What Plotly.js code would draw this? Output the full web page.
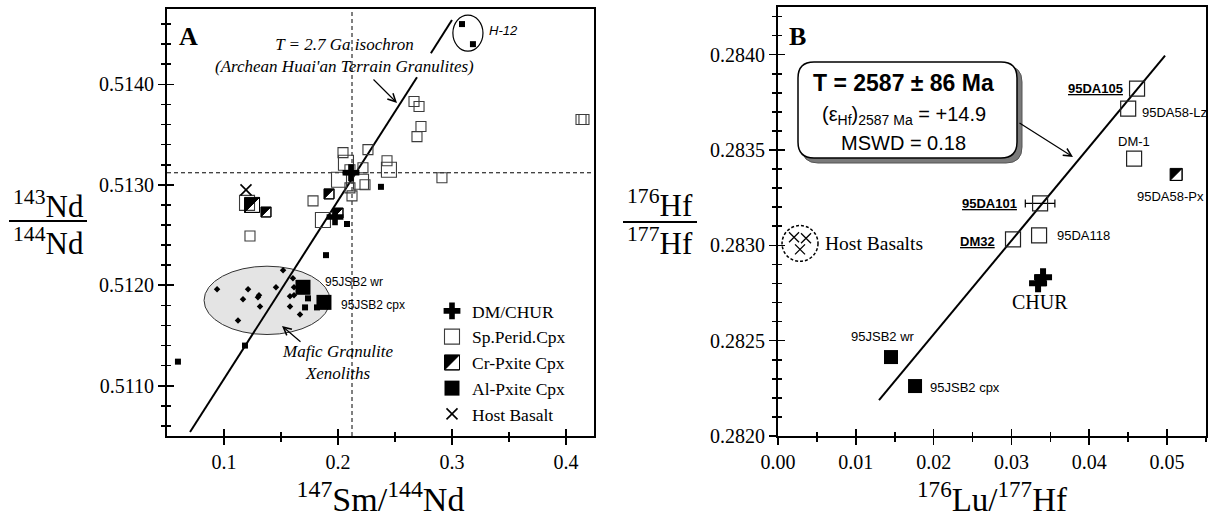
<!DOCTYPE html>
<html><head><meta charset="utf-8">
<script src="https://cdn.plot.ly/plotly-3.0.1.min.js"></script>
<style>html,body{margin:0;padding:0;background:#fff}#chart{width:1209px;height:518px}</style>
</head><body><div id="chart"></div>
<script>
// ================= DATA =================
// Panel A : 147Sm/144Nd (x) vs 143Nd/144Nd (y)
const spSmallSmNd = [0.2667,0.2711,0.2728,0.2693,0.2044,0.2263,0.2430,0.2219,0.2237,0.2105,0.2105,0.2123,0.1781,0.1228,0.2912,0.4132,0.4158];
const spSmallNd   = [0.51383,0.51378,0.51358,0.51348,0.51332,0.51335,0.51324,0.51317,0.51300,0.51315,0.51297,0.51289,0.51284,0.51249,0.51307,0.51365,0.51365];
const spLargeSmNd = [0.2070,0.2447,0.2009,0.2202,0.1868,0.1202];
const spLargeNd   = [0.51322,0.51315,0.51305,0.51303,0.51265,0.51282];
const crLargeSmNd = [0.1246];
const crLargeNd   = [0.51280];
const crSmallSmNd = [0.1368,0.1921,0.2000];
const crSmallNd   = [0.51273,0.51291,0.51272];
const alSmallSmNd = [0.2377,0.2079,0.1895,0.1737,0.1711,0.1816,0.1184,0.0596,0.3088,0.3184];
const alSmallNd   = [0.51298,0.51261,0.51230,0.51187,0.51178,0.51178,0.51140,0.51124,0.51460,0.51440];
const alLargeSmNd = [0.1693,0.1877];
const alLargeNd   = [0.51198,0.51183];
const mgSmNd = [0.0939,0.1123,0.1167,0.1211,0.1298,0.1307,0.1316,0.1456,0.1518,0.1579,0.1579,0.1605,0.1614,0.1614,0.1667];
const mgNd   = [0.51196,0.51165,0.51186,0.51196,0.51188,0.51190,0.51179,0.51198,0.51215,0.51189,0.51179,0.51207,0.51198,0.51190,0.51171];
const dmChurSmNd = [0.2114,0.1974];
const dmChurNd   = [0.51312,0.51268];
const hostSmNd = [0.1193];
const hostNd   = [0.51295];
const isoASmNd = [0.0702,0.2693,null,0.2815,0.3000];
const isoANd   = [0.51054,0.51407,null,0.51431,0.51464];
const refSmNd = 0.2123;
const refNd   = 0.51312;
const xTickValsA = [0.1,0.2,0.3,0.4];
const xTickTextA = ['0.1','0.2','0.3','0.4'];
const yTickValsA = [0.511,0.512,0.513,0.514];
const yTickTextA = ['0.5110','0.5120','0.5130','0.5140'];

// Panel B : 176Lu/177Hf (x) vs 176Hf/177Hf (y)
const bOpenLuHf = [0.04614,0.04500,0.04576,0.03355,0.03020];
const bOpenHf   = [0.283822,0.283717,0.283455,0.283052,0.283031];
const b101LuHf = [0.03368];
const b101Hf   = [0.283220];
const b101Err  = [0.0019];
const bCrLuHf = [0.05116];
const bCrHf   = [0.283372];
const bAlLuHf = [0.01452,0.01761];
const bAlHf   = [0.282414,0.282262];
const bChurLuHf = [0.03406,0.03342];
const bChurHf   = [0.282832,0.282801];
const bHostLuHf = [0.00206,0.00360,0.00283];
const bHostHf   = [0.283042,0.283037,0.282979];
const isoBLuHf = [0.01298,0.04974];
const isoBHf   = [0.282188,0.283995];
const xTickValsB = [0,0.01,0.02,0.03,0.04,0.05];
const xTickTextB = ['0.00','0.01','0.02','0.03','0.04','0.05'];
const yTickValsB = [0.282,0.2825,0.283,0.2835,0.284];
const yTickTextB = ['0.2820','0.2825','0.2830','0.2835','0.2840'];

// ================= HELPERS =================
const W = 1209, H = 518;
const px = v => v / W;
const py = v => 1 - v / H;
const SERIF = 'Liberation Serif, Times New Roman, serif';
const SANS = 'Liberation Sans, Arial, sans-serif';

const domXA = [px(167), px(594)], domYA = [py(436), py(9)];
const domXB = [px(778), px(1206)], domYB = [py(436), py(7)];
const rXA = [0.05, 0.4246], rYA = [0.5105, 0.51475];
const rXB = [0, 0.0550], rYB = [0.2820, 0.28425];

function mainAxis(extra) {
  return Object.assign({
    showline: true, linecolor: 'black', linewidth: 2, mirror: true,
    ticks: 'outside', ticklen: 7, tickwidth: 1.6, tickcolor: 'black',
    showgrid: false, zeroline: false,
    tickfont: {family: SERIF, size: 20, color: 'black'},
    tickmode: 'array'
  }, extra);
}
function overlayAxis(extra) {
  return Object.assign({
    showline: false, ticks: 'inside', ticklen: 7, tickwidth: 1.6, tickcolor: 'black',
    showgrid: false, zeroline: false, showticklabels: false, tickmode: 'array'
  }, extra);
}

// ================= TRACES =================
const A = {xaxis: 'x', yaxis: 'y'};
const B = {xaxis: 'x2', yaxis: 'y2'};
const traces = [
  Object.assign({x: mgSmNd, y: mgNd, mode: 'markers', showlegend: false,
    marker: {symbol: 'diamond', size: 5, color: 'black'}}, A),
  Object.assign({x: isoASmNd, y: isoANd, mode: 'lines', showlegend: false,
    line: {color: 'black', width: 2}}, A),
  Object.assign({x: spSmallSmNd, y: spSmallNd, mode: 'markers', showlegend: false, legendgroup: 'sp',
    marker: {symbol: 'square-open', size: 10, color: '#3c3c3c', line: {width: 1.1}}}, A),
  Object.assign({x: spLargeSmNd, y: spLargeNd, mode: 'markers', name: 'Sp.Perid.Cpx', legendgroup: 'sp', legendrank: 2,
    marker: {symbol: 'square-open', size: 15, color: '#3c3c3c', line: {width: 1.1}}}, A),
  Object.assign({x: crSmallSmNd, y: crSmallNd, mode: 'markers', showlegend: false, meta: 'half', legendgroup: 'cr',
    marker: {symbol: 'square', size: 10, color: 'black', line: {color: 'black', width: 1}}}, A),
  Object.assign({x: crLargeSmNd, y: crLargeNd, mode: 'markers', name: 'Cr-Pxite Cpx', meta: 'half', legendgroup: 'cr', legendrank: 3,
    marker: {symbol: 'square', size: 15, color: 'black', line: {color: 'black', width: 1}}}, A),
  Object.assign({x: alSmallSmNd, y: alSmallNd, mode: 'markers', showlegend: false, legendgroup: 'al',
    marker: {symbol: 'square', size: 6, color: 'black'}}, A),
  Object.assign({x: alLargeSmNd, y: alLargeNd, mode: 'markers', name: 'Al-Pxite Cpx', legendgroup: 'al', legendrank: 4,
    marker: {symbol: 'square', size: 15, color: 'black'}}, A),
  Object.assign({x: dmChurSmNd, y: dmChurNd, mode: 'markers', name: 'DM/CHUR', legendrank: 1,
    marker: {symbol: 'cross', size: 14, color: 'black'}}, A),
  Object.assign({x: hostSmNd, y: hostNd, mode: 'markers', name: 'Host Basalt', legendrank: 5,
    marker: {symbol: 'x-thin-open', size: 11, color: 'black', line: {width: 1.6, color: 'black'}}}, A),

  // Panel B
  Object.assign({x: isoBLuHf, y: isoBHf, mode: 'lines', showlegend: false,
    line: {color: 'black', width: 2}}, B),
  Object.assign({x: bOpenLuHf, y: bOpenHf, mode: 'markers', showlegend: false,
    marker: {symbol: 'square-open', size: 15, color: '#222', line: {width: 1.2}}}, B),
  Object.assign({x: b101LuHf, y: b101Hf, mode: 'markers', showlegend: false,
    error_x: {type: 'data', array: b101Err, visible: true, color: 'black', thickness: 1.2, width: 4},
    marker: {symbol: 'square-open', size: 15, color: '#222', line: {width: 1.2}}}, B),
  Object.assign({x: bCrLuHf, y: bCrHf, mode: 'markers', showlegend: false, meta: 'half',
    marker: {symbol: 'square', size: 12, color: 'black', line: {color: 'black', width: 1}}}, B),
  Object.assign({x: bAlLuHf, y: bAlHf, mode: 'markers', showlegend: false,
    marker: {symbol: 'square', size: 14, color: 'black'}}, B),
  Object.assign({x: bChurLuHf, y: bChurHf, mode: 'markers', showlegend: false,
    marker: {symbol: 'cross', size: 15, color: 'black'}}, B),
  Object.assign({x: bHostLuHf, y: bHostHf, mode: 'markers', showlegend: false,
    marker: {symbol: 'x-thin-open', size: 10, color: 'black', line: {width: 1.3, color: 'black'}}}, B),

  // empty traces carrying the inside-tick overlay axes
  {x: [], y: [], xaxis: 'x3', yaxis: 'y3', showlegend: false, hoverinfo: 'skip'},
  {x: [], y: [], xaxis: 'x4', yaxis: 'y4', showlegend: false, hoverinfo: 'skip'}
];

// ================= SHAPES =================
function roundRect(x0, y0, x1, y1, r) {
  return `M ${px(x0+r)},${py(y0)} L ${px(x1-r)},${py(y0)} Q ${px(x1)},${py(y0)} ${px(x1)},${py(y0+r)} ` +
         `L ${px(x1)},${py(y1-r)} Q ${px(x1)},${py(y1)} ${px(x1-r)},${py(y1)} L ${px(x0+r)},${py(y1)} ` +
         `Q ${px(x0)},${py(y1)} ${px(x0)},${py(y1-r)} L ${px(x0)},${py(y0+r)} Q ${px(x0)},${py(y0)} ${px(x0+r)},${py(y0)} Z`;
}
const shapes = [
  {type: 'circle', xref: 'x', yref: 'y', x0: 0.0825, x1: 0.193, y0: 0.51151, y1: 0.51219,
   fillcolor: '#e4e4e4', line: {color: '#333', width: 1}, layer: 'below'},
  {type: 'circle', xref: 'x', yref: 'y', x0: 0.3008, x1: 0.3272, y0: 0.51433, y1: 0.51469,
   line: {color: 'black', width: 1.2}, layer: 'below'},
  {type: 'line', xref: 'x', yref: 'y domain', x0: refSmNd, x1: refSmNd, y0: 0, y1: 1,
   line: {color: 'black', width: 1, dash: '4px,3px'}, layer: 'below'},
  {type: 'line', xref: 'x domain', yref: 'y', x0: 0, x1: 1, y0: refNd, y1: refNd,
   line: {color: 'black', width: 1, dash: '4px,3px'}, layer: 'below'},
  {type: 'line', xref: 'paper', yref: 'paper', x0: px(9), x1: px(87), y0: py(221), y1: py(221),
   line: {color: 'black', width: 2}},
  {type: 'line', xref: 'paper', yref: 'paper', x0: px(623), x1: px(697), y0: py(222), y1: py(222),
   line: {color: 'black', width: 2}},
  {type: 'circle', xref: 'x2', yref: 'y2', x0: 0.00052, x1: 0.00514, y0: 0.282916, y1: 0.283104,
   line: {color: 'black', width: 1.5, dash: '3px,2px'}},
  {type: 'path', xref: 'paper', yref: 'paper', path: roundRect(802, 66, 1022, 163, 16),
   fillcolor: '#7a7a7a', line: {color: '#555', width: 1}},
  {type: 'path', xref: 'paper', yref: 'paper', path: roundRect(798, 62, 1017, 158, 16),
   fillcolor: 'white', line: {color: 'black', width: 1.5}}
];

// ================= ANNOTATIONS =================
function txt(x, y, text, size, family, xanchor, extra) {
  return Object.assign({xref: 'paper', yref: 'paper', x: px(x), y: py(y), text: text, showarrow: false,
    xanchor: xanchor || 'center', yanchor: 'middle', font: {family: family, size: size, color: 'black'}}, extra || {});
}
function arrow(xh, yh, xt, yt) {
  return {xref: 'paper', yref: 'paper', x: px(xh), y: py(yh), ax: xt - xh, ay: yt - yh, text: '',
    showarrow: true, arrowhead: 5, arrowsize: 1.3, arrowwidth: 1.2, arrowcolor: 'black', standoff: 0, startstandoff: 0};
}
const annotations = [
  txt(188, 37, '<b>A</b>', 26, SERIF),
  txt(345, 55, '<i>T = 2.7 Ga isochron</i><br><i>(Archean Huai\'an Terrain Granulites)</i>', 17, SERIF),
  arrow(397, 103, 372, 78),
  txt(487, 31, '<i>H-12</i>', 13, SANS, 'left'),
  txt(323, 282, '95JSB2 wr', 12, SANS, 'left'),
  txt(339, 305, '95JSB2 cpx', 12, SANS, 'left'),
  txt(337, 362, '<i>Mafic Granulite</i><br><i>Xenoliths</i>', 17, SERIF),
  arrow(282, 326, 302, 343),
  txt(48, 204, '<sup>143</sup>Nd', 31, SERIF),
  txt(48, 241, '<sup>144</sup>Nd', 31, SERIF),

  txt(797, 37, '<b>B</b>', 26, SERIF),
  txt(904, 83, '<b>T = 2587 ± 86 Ma</b>', 23, SANS),
  txt(904, 115, '(ε<sub>Hf</sub>)<sub>2587 Ma</sub> = +14.9', 20, SANS),
  txt(904, 143, 'MSWD = 0.18', 20, SANS),
  arrow(1073, 157, 1018, 122),
  txt(1125, 88, '<b><u>95DA105</u></b>', 13, SANS, 'right'),
  txt(1140, 112, '95DA58-Lz', 13, SANS, 'left'),
  txt(1134, 141, 'DM-1', 13, SANS),
  txt(1170, 196, '95DA58-Px', 13, SANS),
  txt(1019, 203, '<b><u>95DA101</u></b>', 13, SANS, 'right'),
  txt(997, 241, '<b><u>DM32</u></b>', 13, SANS, 'right'),
  txt(1055, 235, '95DA118', 13, SANS, 'left'),
  txt(1040, 302, 'CHUR', 20, SERIF),
  txt(883, 336, '95JSB2 wr', 13, SANS),
  txt(928, 387, '95JSB2 cpx', 13, SANS, 'left'),
  txt(823, 243, 'Host Basalts', 19.5, SERIF, 'left'),
  txt(660, 203, '<sup>176</sup>Hf', 31, SERIF),
  txt(660, 241, '<sup>177</sup>Hf', 31, SERIF)
];

// ================= LAYOUT =================
const layout = {
  width: W, height: H,
  margin: {l: 0, r: 0, t: 0, b: 0},
  paper_bgcolor: 'white', plot_bgcolor: 'white',
  font: {family: SERIF, color: 'black'},
  showlegend: true,
  legend: {x: px(432), y: py(293), xanchor: 'left', yanchor: 'top', bgcolor: 'rgba(0,0,0,0)',
    font: {family: SERIF, size: 17.5, color: 'black'}, tracegroupgap: 0, itemsizing: 'trace'},
  xaxis: mainAxis({domain: domXA, range: rXA, anchor: 'y', tickvals: xTickValsA, ticktext: xTickTextA,
    minor: {tickvals: [0.15,0.25,0.35], ticks: 'outside', ticklen: 4, tickwidth: 1.6, tickcolor: 'black'},
    title: {text: '<sup>147</sup>Sm/<sup>144</sup>Nd', font: {family: SERIF, size: 34, color: 'black'}, standoff: 18}}),
  yaxis: mainAxis({domain: domYA, range: rYA, anchor: 'x', tickvals: yTickValsA, ticktext: yTickTextA,
    minor: {dtick: 0.0002, tick0: 0.511, ticks: 'outside', ticklen: 4, tickwidth: 1.6, tickcolor: 'black'}}),
  xaxis2: mainAxis({domain: domXB, range: rXB, anchor: 'y2', tickvals: xTickValsB, ticktext: xTickTextB,
    minor: {dtick: 0.005, tick0: 0, ticks: 'outside', ticklen: 4, tickwidth: 1.6, tickcolor: 'black'},
    title: {text: '<sup>176</sup>Lu/<sup>177</sup>Hf', font: {family: SERIF, size: 33, color: 'black'}, standoff: 18}}),
  yaxis2: mainAxis({domain: domYB, range: rYB, anchor: 'x2', tickvals: yTickValsB, ticktext: yTickTextB,
    minor: {dtick: 0.0001, tick0: 0.282, ticks: 'outside', ticklen: 4, tickwidth: 1.6, tickcolor: 'black'}}),
  xaxis3: overlayAxis({overlaying: 'x', anchor: 'y', range: rXA, tickvals: xTickValsA,
    minor: {tickvals: [0.15,0.25,0.35], ticks: 'inside', ticklen: 4, tickwidth: 1.6, tickcolor: 'black'}}),
  yaxis3: overlayAxis({overlaying: 'y', anchor: 'x', range: rYA, tickvals: yTickValsA,
    minor: {dtick: 0.0002, tick0: 0.511, ticks: 'inside', ticklen: 4, tickwidth: 1.6, tickcolor: 'black'}}),
  xaxis4: overlayAxis({overlaying: 'x2', anchor: 'y2', range: rXB, tickvals: xTickValsB,
    minor: {dtick: 0.005, tick0: 0, ticks: 'inside', ticklen: 4, tickwidth: 1.6, tickcolor: 'black'}}),
  yaxis4: overlayAxis({overlaying: 'y2', anchor: 'x2', range: rYB, tickvals: yTickValsB,
    minor: {dtick: 0.0001, tick0: 0.282, ticks: 'inside', ticklen: 4, tickwidth: 1.6, tickcolor: 'black'}}),
  shapes: shapes,
  annotations: annotations
};

// half-filled (Cr-Pxite) squares: reshape the square glyph Plotly drew
function halfSquare(p) {
  const m = /^M\s*([\d.]+)/.exec(p.getAttribute('d') || '');
  if (!m) return;
  const r = parseFloat(m[1]);
  p.setAttribute('d', `M${r},${r}H${-r}V${-r}H${r}Z M${r},${-r}L${r},${r}L${-r},${r}Z`);
  p.setAttribute('fill-rule', 'evenodd');
  p.style.fillRule = 'evenodd';
}
Plotly.newPlot('chart', traces, layout, {displayModeBar: false, staticPlot: true}).then(gd => {
  gd.querySelectorAll('g.trace.scatter').forEach(g => {
    const cd = g.__data__;
    const tr = cd && cd[0] && cd[0].trace;
    if (tr && tr.meta === 'half') g.querySelectorAll('path.point').forEach(halfSquare);
  });
  gd.querySelectorAll('.legend g.traces').forEach(g => {
    const d = g.__data__;
    const tr = d && d[0] && d[0].trace;
    if (tr && tr.meta === 'half') g.querySelectorAll('path.scatterpts').forEach(halfSquare);
  });
});
</script>
</body></html>
